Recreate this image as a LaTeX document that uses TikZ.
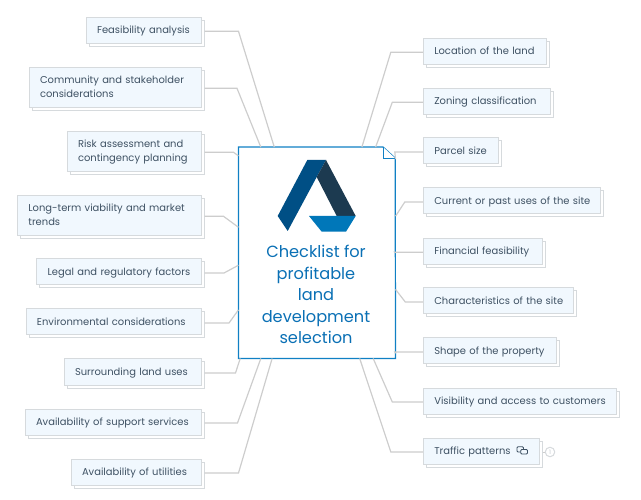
\documentclass[tikz,border=0pt]{standalone}
\usepackage{fontspec}
\setmainfont{Poppins}
\usetikzlibrary{shadows}
\definecolor{leafline}{HTML}{D6DADD}
\definecolor{leaffill}{HTML}{F1F8FE}
\definecolor{linkgray}{HTML}{CDCDCD}
\definecolor{inktext}{HTML}{3E5163}
\definecolor{titleblue}{HTML}{0A70B5}
\definecolor{pageblue}{HTML}{1080C4}
\definecolor{notegray}{HTML}{C4CACE}
\newcommand{\oneline}[1]{\mbox{\rule[-3.5pt]{0pt}{13pt}\smash{\raisebox{-0.4pt}{#1}}}}
\tikzstyle{leaf} = [rectangle, draw=leafline, fill=leaffill, line width=1pt, text=inktext, font=\fontsize{9.95}{14}\selectfont, align=left, inner xsep=11pt, inner ysep=0pt, minimum height=26pt, copy shadow={shadow xshift=3pt, shadow yshift=-3pt, fill=white, draw=leafline}]
\tikzstyle{link} = [draw=linkgray, line width=1.2pt]
\begin{document}
\begin{tikzpicture}[x=1pt,y=-1pt]
\useasboundingbox (0,0) rectangle (641,500);
% left side
\node [leaf, anchor=east, text width=93pt] (feasibility) at (201.5,30.3) {\oneline{Feasibility analysis}};
\node [leaf, anchor=east, text width=150pt, minimum height=40pt] (community) at (201.5,87.3) {\oneline{Community and stakeholder}\\\oneline{considerations}};
\node [leaf, anchor=east, text width=112pt, minimum height=40pt] (risk) at (201.5,151.3) {\oneline{Risk assessment and}\\\oneline{contingency planning}};
\node [leaf, anchor=east, text width=161.6pt, minimum height=40pt] (longterm) at (201.5,215.3) {\oneline{Long-term viability and market}\\\oneline{trends}};
\node [leaf, anchor=east, text width=142.3pt] (legal) at (201.5,272) {\oneline{Legal and regulatory factors}};
\node [leaf, anchor=east, text width=153pt] (environmental) at (201.5,322) {\oneline{Environmental considerations}};
\node [leaf, anchor=east, text width=115pt] (surrounding) at (201.5,372) {\oneline{Surrounding land uses}};
\node [leaf, anchor=east, text width=154pt] (support) at (201.5,422) {\oneline{Availability of support services}};
\node [leaf, anchor=east, text width=108pt] (utilities) at (201.5,472) {\oneline{Availability of utilities}};
% right side
\node [leaf, anchor=west, text width=101.6pt] (location) at (422.8,51.3) {\oneline{Location of the land}};
\node [leaf, anchor=west, text width=104.9pt] (zoning) at (422.8,101.3) {\oneline{Zoning classification}};
\node [leaf, anchor=west, text width=53.6pt] (parcel) at (422.8,151) {\oneline{Parcel size}};
\node [leaf, anchor=west, text width=155.6pt] (current) at (422.8,201) {\oneline{Current or past uses of the site}};
\node [leaf, anchor=west, text width=97.6pt] (financial) at (422.8,251.2) {\oneline{Financial feasibility}};
\node [leaf, anchor=west, text width=128.2pt] (characteristics) at (422.8,301) {\oneline{Characteristics of the site}};
\node [leaf, anchor=west, text width=111.6pt] (shape) at (422.8,351) {\oneline{Shape of the property}};
\node [leaf, anchor=west, text width=170.9pt] (visibility) at (422.8,401) {\oneline{Visibility and access to customers}};
\node [leaf, anchor=west, text width=93.9pt] (traffic) at (422.8,451) {\oneline{Traffic patterns}};
% centre page
\node [rectangle, minimum width=156.7pt, minimum height=211pt, inner sep=0pt] (checklist) at (317,252.8) {};
\draw [pageblue, line width=1.2pt, fill=white] (checklist.north west) -- ++(144.7,0) -- ++(12,11) -- (checklist.south east) -- (checklist.south west) -- cycle;
\draw [pageblue, line width=1pt, fill=white] (383.3,147.3) -- (383.3,158.3) -- (395.3,158.3);
\node [text=titleblue, font=\fontsize{16.2}{21.4}\selectfont, align=center] (title) at (316,294.5) {Checklist for\\profitable\\land\\development\\selection};
% logo
\fill [fill={rgb,255:red,0;green,79;blue,133}] (307.3,160) -- (326,160) -- (316.7,177) -- (287.7,231) -- (277.7,216) -- cycle;
\fill [fill={rgb,255:red,28;green,58;blue,80}] (326,160) -- (355.7,216) -- (336.7,216) -- (316.7,177) -- cycle;
\fill [fill={rgb,255:red,0;green,119;blue,185}] (309,216) -- (355.7,216) -- (346,231.7) -- (321.7,231.7) -- cycle;
% connectors
\foreach \leafname/\run/\ang in {feasibility/34/112.04, community/32.5/118.26, risk/29/129.9, longterm/19/162.44, legal/19.5/189.07, environmental/24.5/216.1, surrounding/31/234.7, support/33/242.6, utilities/34/247.96}
    \draw [link] ([shift={(3pt,-1pt)}]\leafname.east) -- ++(\run,0) -- (checklist.\ang);
\foreach \leafname/\run/\ang in {location/32/67.36, zoning/30.5/61.61, parcel/28/50.4, current/18/25.16, financial/28/0.6, characteristics/17.5/335.8, shape/28/308.3, visibility/30.5/298.39, traffic/32/292.64}
    \draw [link] ([yshift=-1pt]\leafname.west) -- ++(-\run,0) -- (checklist.\ang);
% traffic icon and note
\draw [inktext, line width=0.8pt, rounded corners=1pt] (517,446.8) rectangle (523.5,452);
\draw [inktext, line width=0.8pt, rounded corners=1pt, fill=leaffill] (520.8,449.5) rectangle (527.5,454);
\node [circle, draw=leafline, line width=1pt, fill=white, text=notegray, font=\fontsize{6}{6}\selectfont, inner sep=0pt, minimum size=9.5pt] (note) at (550,452) {1};
\draw [link, line width=1pt] ([shift={(3pt,-1pt)}]traffic.east) -- (note);
\end{tikzpicture}
\end{document}
